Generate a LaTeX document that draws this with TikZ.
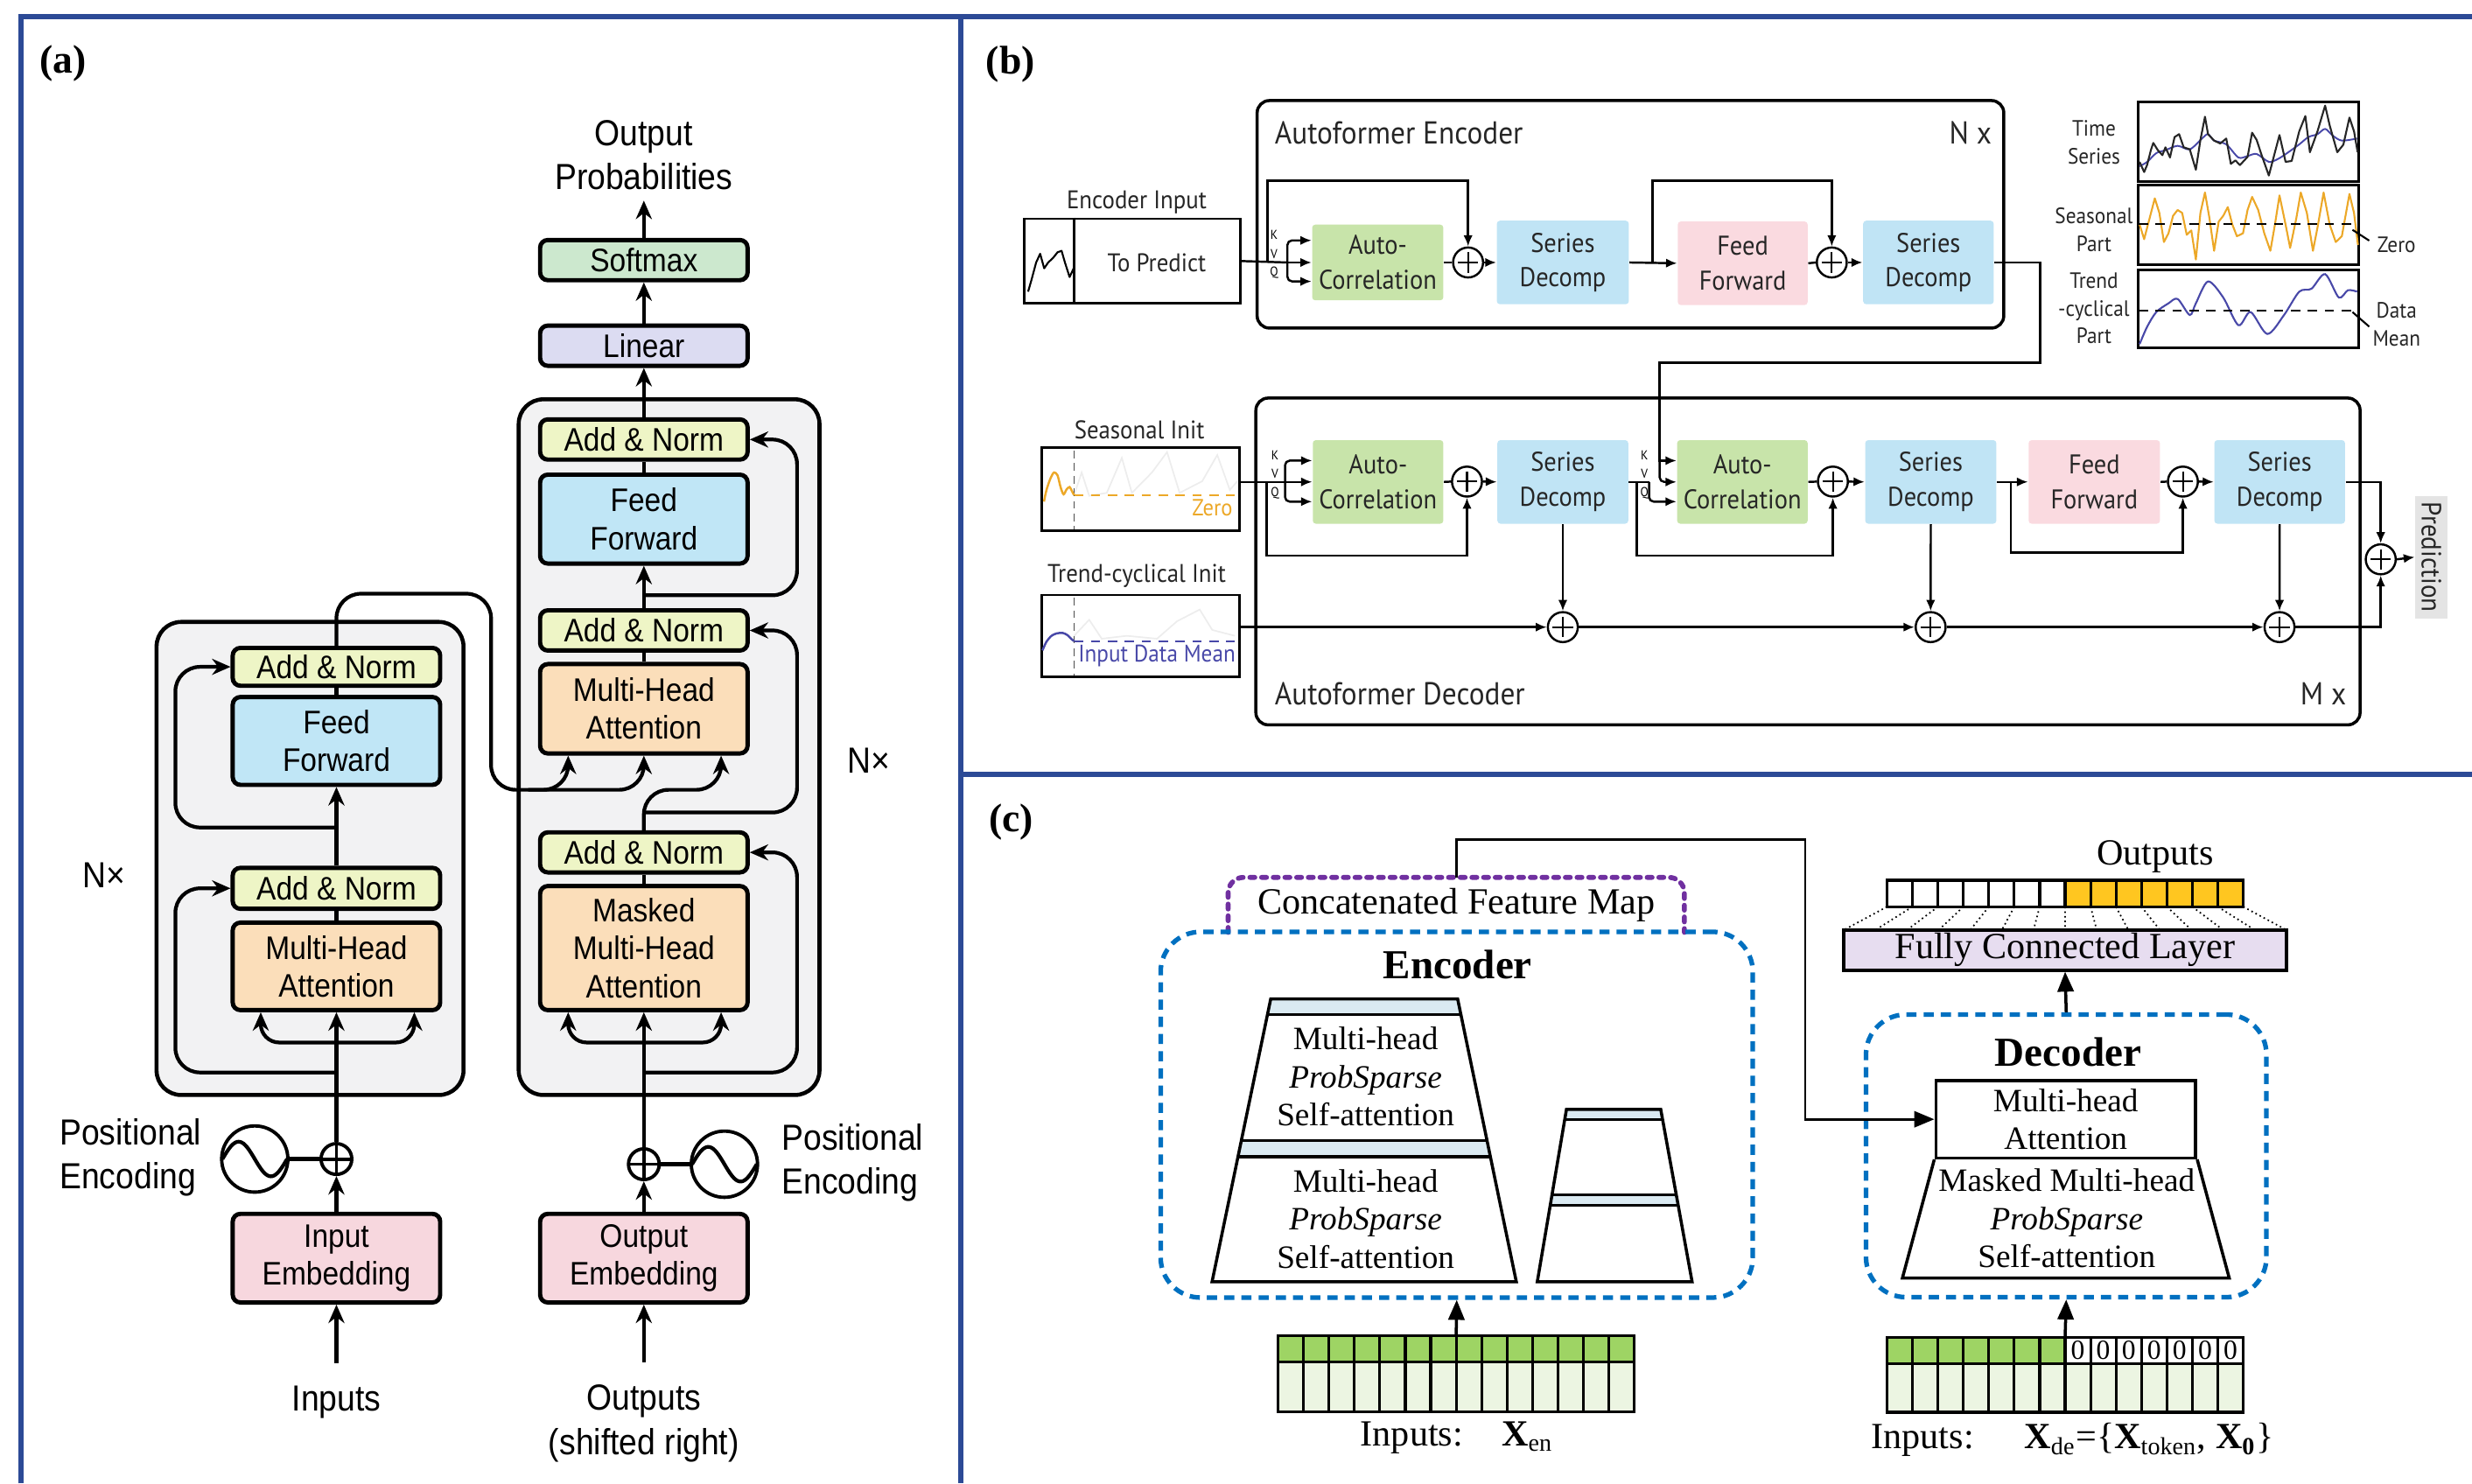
\documentclass[tikz,border=0pt]{standalone}
\usepackage{fontspec}
\setmainfont{Liberation Serif}
\newfontfamily\tfsans[FakeStretch=0.9]{Liberation Sans}
\newfontfamily\afsans[FakeStretch=0.92]{PT Sans}
\usetikzlibrary{arrows.meta,calc,positioning}

\newcommand{\pxu}{0.018017cm}

\definecolor{framec}{RGB}{44,74,150}
\definecolor{layergray}{RGB}{242,242,243}
\definecolor{normyel}{RGB}{238,245,198}
\definecolor{ffblue}{RGB}{192,230,246}
\definecolor{mhaorange}{RGB}{251,222,186}
\definecolor{embpink}{RGB}{247,215,222}
\definecolor{linlav}{RGB}{220,220,242}
\definecolor{softgreen}{RGB}{204,232,206}
\definecolor{acgreen}{RGB}{200,228,170}
\definecolor{sdblue}{RGB}{192,228,245}
\definecolor{ffpink}{RGB}{250,218,224}
\definecolor{tsorange}{RGB}{236,168,40}
\definecolor{tsblue}{RGB}{72,72,168}
\definecolor{predgray}{RGB}{228,228,228}
\definecolor{dashblue}{RGB}{0,112,192}
\definecolor{mappurple}{RGB}{112,48,160}
\definecolor{bandblue}{RGB}{218,234,242}
\definecolor{tokgreen}{RGB}{158,212,100}
\definecolor{cellgreen}{RGB}{236,245,226}
\definecolor{outyellow}{RGB}{255,198,32}
\definecolor{fclav}{RGB}{231,221,240}

\tikzset{
  panelframe/.style={draw=framec, line width=1.7pt},
  panellbl/.style={font=\bfseries\fontsize{13}{15}\selectfont},
  % transformer
  tbox/.style={draw, line width=1.4pt, rounded corners=2.5pt, minimum width=131.6*\pxu, inner sep=0pt, align=center, font=\tfsans\fontsize{10.6}{12.3}\selectfont},
  tlabel/.style={align=center, font=\tfsans\fontsize{11.8}{14.3}\selectfont},
  tline/.style={line width=1.2pt},
  tarrow/.style={line width=1.2pt, -{Stealth[length=6pt,width=5.2pt]}},
  layerbox/.style={draw, line width=1.3pt, fill=layergray, rounded corners=8pt},
  tplus/.style={circle, draw, line width=1.1pt, minimum size=19.5*\pxu, inner sep=0pt,
    path picture={\draw[line width=1.1pt] (path picture bounding box.north) -- (path picture bounding box.south) (path picture bounding box.west) -- (path picture bounding box.east);}},
  posenc/.style={circle, draw, line width=1.1pt, minimum size=42*\pxu, inner sep=0pt},
  % autoformer
  abox/.style={rounded corners=1pt, minimum height=53*\pxu, inner sep=0pt, align=center, text=black!85, font=\afsans\fontsize{8.8}{11.3}\selectfont},
  aplus/.style={circle, draw, line width=0.7pt, minimum size=19*\pxu, inner sep=0pt,
    path picture={\draw[line width=0.6pt] ($(path picture bounding box.center)+(0,-6.5)$) -- ($(path picture bounding box.center)+(0,6.5)$) ($(path picture bounding box.center)+(-6.5,0)$) -- ($(path picture bounding box.center)+(6.5,0)$);}},
  aline/.style={line width=0.7pt},
  aarrow/.style={line width=0.7pt, -{Latex[length=3.6pt,width=3pt]}},
  ablock/.style={draw, line width=1pt, rounded corners=4pt},
  atitle/.style={font=\afsans\fontsize{10.3}{12}\selectfont, text=black!85},
  asmall/.style={font=\afsans\fontsize{8.3}{10}\selectfont, text=black!85},
  tsl/.style={font=\afsans\fontsize{7.2}{9}\selectfont, align=center, text=black!85},
  kvq/.style={font=\afsans\fontsize{4.2}{5}\selectfont, inner sep=0pt},
  tsdash/.style={line width=0.6pt, dash pattern=on 3pt off 2.5pt},
  % informer
  cline/.style={line width=1pt},
  carrow/.style={line width=1pt, -{Triangle[length=6.5pt,width=5.2pt]}},
  ctext/.style={align=center, font=\fontsize{10.6}{12.4}\selectfont},
  clabel/.style={font=\fontsize{12}{14}\selectfont},
  dashbox/.style={draw=dashblue, line width=1.5pt, dash pattern=on 3.3pt off 2.3pt, rounded corners=13pt},
  mapline/.style={draw=mappurple, line width=1.6pt, dash pattern=on 1.6pt off 2.2pt, line cap=round, rounded corners=5pt},
  cellline/.style={line width=0.9pt},
  fanline/.style={line width=0.5pt, densely dotted}
}

\begin{document}
\begin{tikzpicture}[x=0.018017cm, y=-0.018017cm]
\useasboundingbox (0,0) rectangle (1568,941);

% frames
\draw[panelframe] (13.5,941) -- (13.5,10.4) -- (1568,10.4);
\draw[panelframe] (609.5,10.4) -- (609.5,941);
\draw[panelframe] (609.5,491.2) -- (1568,491.2);

\node (lbla) at (40,40) [panellbl] {(a)};
\node (lblb) at (641,40.7) [panellbl] {(b)};
\node (lblc) at (641.5,521.7) [panellbl] {(c)};

% ---------------- (a) transformer
\draw[layerbox] (99.3,394.5) rectangle (294,694.6);
\draw[layerbox] (329,253.3) rectangle (519.8,694.6);

\node (encAN2) at (213.4,423) [tbox, fill=normyel, minimum height=24*\pxu] {Add \& Norm};
\node (encFF) at (213.4,470) [tbox, fill=ffblue, minimum height=55.7*\pxu] {Feed\\Forward};
\node (encAN1) at (213.4,563.5) [tbox, fill=normyel, minimum height=26*\pxu] {Add \& Norm};
\node (encMHA) at (213.4,613) [tbox, fill=mhaorange, minimum height=55.5*\pxu] {Multi-Head\\Attention};
\node (encEmb) at (213.4,798.1) [tbox, fill=embpink, minimum height=56.2*\pxu] {Input\\Embedding};
\node (encPlus) at (213.4,735.2) [tplus] {};
\node (encPE) at (161.6,735.2) [posenc] {};
\node (encPEt) at (31,734.2) [tlabel, align=left, anchor=west] {Positional\\Encoding};
\node (encN) at (66.2,555) [tlabel] {N×};
\node (inputs) at (213.4,889.7) [tlabel] {Inputs};

\node (outprob) at (408.4,98.3) [tlabel] {Output\\Probabilities};
\node (softmax) at (408.4,165) [tbox, fill=softgreen, minimum height=25.5*\pxu] {Softmax};
\node (linear) at (408.4,219.3) [tbox, fill=linlav, minimum height=25.5*\pxu] {Linear};
\node (decAN3) at (408.4,278.8) [tbox, fill=normyel, minimum height=25.5*\pxu] {Add \& Norm};
\node (decFF) at (408.4,329.3) [tbox, fill=ffblue, minimum height=56.4*\pxu] {Feed\\Forward};
\node (decAN2) at (408.4,399.9) [tbox, fill=normyel, minimum height=25.5*\pxu] {Add \& Norm};
\node (decMHA) at (408.4,449.6) [tbox, fill=mhaorange, minimum height=56.7*\pxu] {Multi-Head\\Attention};
\node (decAN1) at (408.4,540.7) [tbox, fill=normyel, minimum height=25.4*\pxu] {Add \& Norm};
\node (decMMHA) at (408.4,601.4) [tbox, fill=mhaorange, minimum height=78.7*\pxu] {Masked\\Multi-Head\\Attention};
\node (decEmb) at (408.4,798.1) [tbox, fill=embpink, minimum height=56.2*\pxu] {Output\\Embedding};
\node (decPlus) at (408.4,738.5) [tplus] {};
\node (decPE) at (459.5,738.5) [posenc] {};
\node (decPEt) at (489,737.5) [tlabel, align=left, anchor=west] {Positional\\Encoding};
\node (decN) at (551,482.7) [tlabel] {N×};
\node (outputs) at (408.4,903) [tlabel] {Outputs\\(shifted right)};

% sine waves of the positional encodings
\draw[tline, shift={(encPE.center)}] plot[domain=-1:1, samples=41, smooth] (\x*20.5, {11*sin(180*\x)});
\draw[tline, shift={(decPE.center)}] plot[domain=-1:1, samples=41, smooth] (\x*20.5, {11*sin(180*\x)});

% encoder stack
\draw[tarrow, shorten <=4pt] (inputs.north) -- (encEmb.south);
\draw[tarrow] (encEmb.north) -- (encPlus.south);
\draw[tline] (encPE) -- (encPlus);
\draw[tarrow] (encPlus.north) -- (encMHA.south);
\draw[tarrow, rounded corners=6pt] (213.4,661.3) -| ($(encMHA.south)+(-48,0)$);
\draw[tarrow, rounded corners=6pt] (213.4,661.3) -| ($(encMHA.south)+(49.4,0)$);
\draw[tarrow, rounded corners=8pt] (213.4,680.3) -| ($(encAN1.west)+(-35,0)$) -- (encAN1.west);
\draw[tline] (encMHA.north) -- (encAN1.south);
\draw[tarrow] (encAN1.north) -- (encFF.south);
\draw[tarrow, rounded corners=8pt] (213.4,524.9) -| ($(encAN2.west)+(-35,0)$) -- (encAN2.west);
\draw[tline] (encFF.north) -- (encAN2.south);

% encoder output into the decoder
\draw[tarrow, rounded corners=8pt] (encAN2.north) |- (311.5,376.6) -- (311.5,501) -| (decMHA.south);
\draw[tarrow, rounded corners=8pt] (335,501) -| ($(decMHA.south)+(-48,0)$);
\draw[tarrow, rounded corners=8pt] (decAN1.north) -- (408.4,501) -| ($(decMHA.south)+(49,0)$);

% decoder stack
\draw[tarrow, shorten <=4pt] (outputs.north) -- (decEmb.south);
\draw[tarrow] (decEmb.north) -- (decPlus.south);
\draw[tline] (decPE) -- (decPlus);
\draw[tarrow] (decPlus.north) -- (decMMHA.south);
\draw[tarrow, rounded corners=6pt] (408.4,661.3) -| ($(decMMHA.south)+(-48,0)$);
\draw[tarrow, rounded corners=6pt] (408.4,661.3) -| ($(decMMHA.south)+(49,0)$);
\draw[tarrow, rounded corners=8pt] (408.4,680.3) -| ($(decAN1.east)+(30,0)$) -- (decAN1.east);
\draw[tline] (decMMHA.north) -- (decAN1.south);
\draw[tarrow, rounded corners=8pt] (408.4,515.4) -| ($(decAN2.east)+(30,0)$) -- (decAN2.east);
\draw[tline] (decMHA.north) -- (decAN2.south);
\draw[tarrow] (decAN2.north) -- (decFF.south);
\draw[tarrow, rounded corners=8pt] (408.4,377.6) -| ($(decAN3.east)+(30,0)$) -- (decAN3.east);
\draw[tline] (decFF.north) -- (decAN3.south);
\draw[tarrow] (decAN3.north) -- (linear.south);
\draw[tarrow] (linear.north) -- (softmax.south);
\draw[tarrow] (softmax.north) -- (outprob.south);

% ---------------- (b) autoformer
\draw[ablock] (797.4,63.8) rectangle (1271,208.1);
\node (encTitle) at (801.7,84.2) [atitle, anchor=west] {Autoformer Encoder};
\node (encNx) at (1249.8,84.2) [atitle] {N x};

\node (encin) at (718.2,165.6) [draw, line width=0.8pt, minimum width=137.2*\pxu, minimum height=53.6*\pxu] {};
\draw[line width=0.8pt] ($(encin.north west)+(32.3,0)$) -- ($(encin.south west)+(32.3,0)$);
\node (encinLbl) at (721,128.6) [asmall] {Encoder Input};
\node (toPred) at (733.7,166.5) [asmall] {To Predict};
\begin{scope}[shift={(610.5,55.5)}, xscale=0.42475, yscale=0.18501]
  \draw[line width=0.6pt, line join=round] (98,700) -- (103,660) -- (110,600) -- (116,570) -- (122,620) -- (128,600) -- (135,585) -- (142,565) -- (148,560) -- (153,600) -- (160,650) -- (166,620);
\end{scope}

\node (acE) at (873.9,166.5) [abox, fill=acgreen, minimum width=83.2*\pxu, minimum height=48*\pxu] {Auto-\\Correlation};
\node (plusE1) at (931.2,166.5) [aplus] {};
\node (sdE1) at (991.3,166.5) [abox, fill=sdblue, minimum width=83.7*\pxu] {Series\\Decomp};
\node (ffE) at (1105.4,167) [abox, fill=ffpink, minimum width=82.4*\pxu] {Feed\\Forward};
\node (plusE2) at (1161.9,166.5) [aplus] {};
\node (sdE2) at (1223.2,166.5) [abox, fill=sdblue, minimum width=82.8*\pxu] {Series\\Decomp};

\node (kE) at (808.1,148.9) [kvq] {K};
\node (vE) at (808.1,161) [kvq] {V};
\node (qE) at (808.1,173) [kvq] {Q};

\coordinate (forkE) at (816.6,166.5);
\coordinate (resE1) at (804,166.5);
\coordinate (resE2) at (1048.1,166.5);
\draw[aline] (encin.east) -- (forkE);
\draw[aarrow] (forkE) -- (acE.west);
\draw[aarrow, rounded corners=1.5pt] (forkE) |- ($(acE.west)+(0,-14)$);
\draw[aarrow, rounded corners=1.5pt] (forkE) |- ($(acE.west)+(0,12)$);
\draw[aarrow] (resE1) |- ($(plusE1)+(0,-51.8)$) -- (plusE1.north);
\draw[aline] (acE.east) -- (plusE1.west);
\draw[aarrow] (plusE1.east) -- (sdE1.west);
\draw[aarrow] (sdE1.east) -- (ffE.west);
\draw[aarrow] (resE2) |- ($(plusE2)+(0,-51.8)$) -- (plusE2.north);
\draw[aline] (ffE.east) -- (plusE2.west);
\draw[aarrow] (plusE2.east) -- (sdE2.west);

% decomposition example
\begin{scope}[shift={(1265.5,55.5)}, xscale=0.19292, yscale=0.18501]
  \draw[line width=0.8pt] (470,50) rectangle (1195,322);
  \draw[line width=0.8pt] (470,335) rectangle (1195,607);
  \draw[line width=0.8pt] (470,625) rectangle (1195,893);
  \draw[tsblue, line width=0.55pt] plot[smooth] coordinates {(475,270) (500,255) (530,225) (560,215) (600,200) (640,212) (680,175) (700,160) (720,182) (760,195) (800,240) (830,235) (860,228) (900,255) (930,245) (960,225) (1000,195) (1030,170) (1060,160) (1085,142) (1110,165) (1140,182) (1190,175)};
  \draw[black!85, line width=0.6pt, line join=round] (475,255) -- (490,290) -- (500,265) -- (512,215) -- (520,190) -- (535,215) -- (550,232) -- (560,205) -- (575,240) -- (590,170) -- (605,160) -- (620,205) -- (640,212) -- (660,282) -- (675,180) -- (690,100) -- (700,160) -- (720,182) -- (740,192) -- (760,175) -- (775,262) -- (790,250) -- (805,266) -- (830,238) -- (845,155) -- (860,180) -- (875,228) -- (900,302) -- (918,230) -- (935,163) -- (955,255) -- (975,252) -- (1000,150) -- (1020,98) -- (1035,222) -- (1060,150) -- (1085,62) -- (1100,130) -- (1125,222) -- (1145,196) -- (1165,103) -- (1180,150) -- (1192,222);
  \draw[tsorange, line width=0.6pt, line join=round] (475,470) -- (490,520) -- (500,480) -- (515,420) -- (525,380) -- (540,430) -- (555,530) -- (570,500) -- (585,440) -- (600,420) -- (615,430) -- (630,505) -- (645,490) -- (660,590) -- (675,430) -- (690,360) -- (705,450) -- (720,560) -- (735,460) -- (750,440) -- (765,410) -- (780,470) -- (795,510) -- (815,500) -- (830,420) -- (845,375) -- (865,420) -- (885,500) -- (905,560) -- (920,470) -- (935,370) -- (955,470) -- (970,550) -- (990,450) -- (1005,360) -- (1025,430) -- (1045,560) -- (1060,480) -- (1080,360) -- (1100,470) -- (1120,530) -- (1140,510) -- (1165,365) -- (1180,430) -- (1193,540);
  \draw[tsdash] (472,468) -- (1175,468);
  \draw[tsblue, line width=0.6pt] plot[smooth] coordinates {(475,880) (500,820) (530,770) (570,740) (600,725) (640,780) (660,740) (700,665) (750,720) (800,815) (840,770) (895,845) (950,780) (1000,700) (1040,690) (1085,640) (1130,720) (1160,695) (1190,700)};
  \draw[tsdash] (472,765) -- (1175,765);
  \draw[line width=0.6pt] (1175,488) -- (1230,525);
  \draw[line width=0.6pt] (1175,770) -- (1230,820);
  \node (tsTime) at (325,188) [tsl] {Time\\Series};
  \node (tsSeas) at (325,488) [tsl] {Seasonal\\Part};
  \node (tsTrend) at (325,757) [tsl] {Trend\\-cyclical\\Part};
  \node (tsZero) at (1320,540) [tsl] {Zero};
  \node (tsMean) at (1320,812) [tsl] {Data\\Mean};
\end{scope}

% decoder
\draw[ablock] (796.6,252.5) rectangle (1497,459.8);
\node (decTitle) at (801.7,440.3) [atitle, anchor=west] {Autoformer Decoder};
\node (decMx) at (1473.6,440.3) [atitle] {M x};

\node (sinit) at (723.5,310.4) [draw, line width=0.8pt, minimum width=125.8*\pxu, minimum height=52.7*\pxu] {};
\node (tinit) at (723.5,403.3) [draw, line width=0.8pt, minimum width=125.8*\pxu, minimum height=51.8*\pxu] {};
\node (sinitLbl) at (722.7,272.9) [asmall] {Seasonal Init};
\node (tinitLbl) at (721,365.4) [asmall] {Trend-cyclical Init};
\begin{scope}[shift={(638.3,244.2)}, xscale=0.31862, yscale=0.18501]
  \draw[black!7, line width=0.5pt] (135,378) -- (150,300) -- (165,380) -- (200,370) -- (230,250) -- (250,370) -- (290,300) -- (320,230) -- (345,370) -- (390,330) -- (420,240) -- (445,360) -- (460,330);
  \draw[black!7, line width=0.5pt] (135,860) -- (165,805) -- (190,870) -- (240,860) -- (300,870) -- (340,810) -- (385,770) -- (410,840) -- (455,860);
  \draw[black!70, line width=0.5pt, dash pattern=on 2.5pt off 1.6pt] (135,225) -- (135,495);
  \draw[black!70, line width=0.5pt, dash pattern=on 2.5pt off 1.6pt] (135,730) -- (135,995);
  \draw[tsorange, line width=0.6pt, dash pattern=on 3pt off 2.5pt] (135,378) -- (455,378);
  \draw[tsblue, line width=0.6pt, dash pattern=on 3pt off 2.5pt] (135,878) -- (455,878);
  \draw[tsorange, line width=0.7pt] plot[smooth] coordinates {(75,400) (80,360) (88,320) (95,300) (102,310) (108,350) (114,375) (120,358) (126,350) (131,365) (135,378)};
  \draw[tsblue, line width=0.7pt] plot[smooth] coordinates {(72,910) (80,880) (90,860) (100,852) (112,850) (122,858) (130,872) (135,878)};
\end{scope}
\node (zeroS) at (769,322) [font=\afsans\fontsize{7.6}{9}\selectfont, text=tsorange] {Zero};
\node (meanT) at (733.8,416.3) [font=\afsans\fontsize{7.8}{9}\selectfont, text=tsblue] {Input Data Mean};

\node (acD1) at (874.1,305.7) [abox, fill=acgreen, minimum width=82.8*\pxu] {Auto-\\Correlation};
\node (plusD1) at (930.5,305.5) [aplus] {};
\node (sdD1) at (991.3,305.7) [abox, fill=sdblue, minimum width=83*\pxu] {Series\\Decomp};
\node (acD2) at (1105.2,305.7) [abox, fill=acgreen, minimum width=82.8*\pxu] {Auto-\\Correlation};
\node (plusD2) at (1162.6,305.5) [aplus] {};
\node (sdD2) at (1224.7,305.7) [abox, fill=sdblue, minimum width=83.2*\pxu] {Series\\Decomp};
\node (ffD) at (1328.4,305.7) [abox, fill=ffpink, minimum width=83.3*\pxu] {Feed\\Forward};
\node (plusD3) at (1384.6,305.5) [aplus] {};
\node (sdD3) at (1446,305.7) [abox, fill=sdblue, minimum width=82.9*\pxu] {Series\\Decomp};
\node (trD1) at (991.3,397.8) [aplus] {};
\node (trD2) at (1224.6,397.8) [aplus] {};
\node (trD3) at (1445.9,397.8) [aplus] {};
\node (plusOut) at (1510.1,354.8) [aplus] {};
\node (pred) at (1542.3,353.4) [rotate=-90, fill=predgray, minimum width=77.7*\pxu, minimum height=20.5*\pxu, inner sep=0pt, font=\afsans\fontsize{9}{10}\selectfont, text=black!85] {Prediction};

\node (kD1) at (808.7,288.6) [kvq] {K};
\node (vD1) at (808.7,300.6) [kvq] {V};
\node (qD1) at (808.7,312.7) [kvq] {Q};
\node (kD2) at (1043,288.6) [kvq] {K};
\node (vD2) at (1043,300.6) [kvq] {V};
\node (qD2) at (1043,312.7) [kvq] {Q};

\coordinate (forkD) at (815.1,305.7);
\coordinate (resD1) at (803.4,305.7);
\coordinate (resD2) at (1038.1,305.7);
\coordinate (bendD2) at (1046,305.7);
\coordinate (resD3) at (1275.6,305.7);
\coordinate (encOut) at (1294,230);
\coordinate (kvD2) at (1052.7,292.2);

\draw[aline] (sinit.east |- acD1) -- (forkD);
\draw[aarrow] (forkD) -- (acD1.west);
\draw[aarrow, rounded corners=1.5pt] (forkD) |- ($(acD1.west)+(0,-13.5)$);
\draw[aarrow, rounded corners=1.5pt] (forkD) |- ($(acD1.west)+(0,12.5)$);
\draw[aarrow] (resD1) |- ($(plusD1)+(0,47)$) -- (plusD1.south);
\draw[aline] (acD1.east) -- (plusD1.west);
\draw[aarrow] (plusD1.east) -- (sdD1.west);

\draw[aline] (sdD1.east) -- (bendD2);
\draw[aarrow, rounded corners=1.5pt] (bendD2) |- ($(acD2.west)+(0,12.5)$);
\draw[aarrow] (sdE2.east) -| (encOut) -| (kvD2) -- ($(acD2.west)+(0,-13.5)$);
\draw[aarrow, rounded corners=1.5pt] (kvD2) |- (acD2.west);
\draw[aarrow] (resD2) |- ($(plusD2)+(0,47)$) -- (plusD2.south);
\draw[aline] (acD2.east) -- (plusD2.west);
\draw[aarrow] (plusD2.east) -- (sdD2.west);
\draw[aarrow] (sdD2.east) -- (ffD.west);
\draw[aarrow] (resD3) |- ($(plusD3)+(0,45)$) -- (plusD3.south);
\draw[aline] (ffD.east) -- (plusD3.west);
\draw[aarrow] (plusD3.east) -- (sdD3.west);

\draw[aarrow] (sdD1.south) -- (trD1.north);
\draw[aarrow] (sdD2.south) -- (trD2.north);
\draw[aarrow] (sdD3.south) -- (trD3.north);
\draw[aarrow] (tinit.east |- trD1) -- (trD1.west);
\draw[aarrow] (trD1.east) -- (trD2.west);
\draw[aarrow] (trD2.east) -- (trD3.west);
\draw[aarrow] (trD3.east) -| (plusOut.south);
\draw[aarrow] (sdD3.east) -| (plusOut.north);
\draw[aarrow] (plusOut.east) -- (pred.south);

% ---------------- (c) informer
\node (cfm) at (923.7,574) [minimum width=288.6*\pxu, minimum height=34.1*\pxu, inner sep=0pt, clabel] {Concatenated Feature Map};
\draw[mapline] (cfm.south west) -- (cfm.north west) -- (cfm.north east) -- (cfm.south east);
\node (encC) at (924,707.1) [dashbox, minimum width=375.6*\pxu, minimum height=232*\pxu] {};
\node (encCt) at (924.6,611.9) [font=\bfseries\fontsize{13.4}{15}\selectfont] {Encoder};

% attention blocks of the encoder
\fill[bandblue] (806,633.7) -- (924.6,633.7) -- (926.65,643.6) -- (803.95,643.6) -- cycle;
\fill[bandblue] (787.4,723.5) -- (943.2,723.5) -- (945.4,733.8) -- (785.2,733.8) -- cycle;
\draw[cline] (806,633.7) -- (924.6,633.7) -- (961.8,813.1) -- (768.8,813.1) -- cycle;
\draw[cline] (803.95,643.6) -- (926.65,643.6);
\draw[cline] (787.4,723.5) -- (943.2,723.5);
\draw[cline] (785.2,733.8) -- (945.4,733.8);
\node (encT1) at (866.2,683) [ctext] {Multi-head\\\textit{ProbSparse}\\Self-attention};
\node (encT2) at (866.2,773.3) [ctext] {Multi-head\\\textit{ProbSparse}\\Self-attention};

\fill[bandblue] (993.6,703.7) -- (1053.4,703.7) -- (1054.5,710.1) -- (992.5,710.1) -- cycle;
\fill[bandblue] (984.4,758) -- (1062.6,758) -- (1063.7,764.6) -- (983.3,764.6) -- cycle;
\draw[cline] (993.6,703.7) -- (1053.4,703.7) -- (1073.3,813.1) -- (975.1,813.1) -- cycle;
\draw[cline] (992.5,710.1) -- (1054.5,710.1);
\draw[cline] (984.4,758) -- (1062.6,758);
\draw[cline] (983.3,764.6) -- (1063.7,764.6);

% encoder inputs
\node (xen) at (923.65,871.4) [minimum width=226.1*\pxu, minimum height=48*\pxu, inner sep=0pt] {};
\foreach \i in {0,...,13} {
  \draw[cellline, fill=tokgreen] (810.6+\i*16.15,847.4) rectangle ++(16.15,16.6);
  \draw[cellline, fill=cellgreen] (810.6+\i*16.15,864) rectangle ++(16.15,31.4);
}
\node (inEn) at (895.5,917) [clabel, anchor=base] {Inputs:};
\node (inEnX) at (968.8,917) [clabel, anchor=base] {\textbf{X}\textsubscript{en}};

% decoder
\node (decC) at (1310.6,733.2) [dashbox, minimum width=254*\pxu, minimum height=179.3*\pxu] {};
\node (decCt) at (1311.8,667.6) [font=\bfseries\fontsize{13.4}{15}\selectfont] {Decoder};
\node (mhaC) at (1310.3,710) [draw, line width=1pt, minimum width=164.8*\pxu, minimum height=49*\pxu, inner sep=0pt, ctext] {Multi-head\\Attention};
\draw[cline] (mhaC.south west) -- (1206.7,810.7) -- (1414,810.7) -- (mhaC.south east);
\node (decT) at (1310.9,772.9) [ctext] {Masked Multi-head\\\textit{ProbSparse}\\Self-attention};

\node (fcC) at (1309.9,602.7) [draw, line width=1pt, fill=fclav, minimum width=281*\pxu, minimum height=25.4*\pxu, inner sep=0pt, clabel] {Fully Connected Layer};
\node (outC) at (1367,543.2) [clabel] {Outputs};
\foreach \i in {0,...,6}
  \draw[cellline, fill=white] (1196.9+\i*16.143,558.4) rectangle ++(16.143,16.8);
\foreach \i in {7,...,13}
  \draw[cellline, fill=outyellow] (1196.9+\i*16.143,558.4) rectangle ++(16.143,16.8);
\foreach \i in {0,...,14}
  \draw[fanline] (1196.9+\i*16.143,575.2) -- (1169.4+\i*20.071,590);

\node (xde) at (1309.9,872) [minimum width=226*\pxu, minimum height=47.6*\pxu, inner sep=0pt] {};
\foreach \i in {0,...,13}
  \draw[cellline, fill=cellgreen] (1196.9+\i*16.143,864.8) rectangle ++(16.143,31);
\foreach \i in {0,...,6}
  \draw[cellline, fill=tokgreen] (1196.9+\i*16.143,848.2) rectangle ++(16.143,16.6);
\foreach \i in {7,...,13} {
  \draw[cellline, fill=white] (1196.9+\i*16.143,848.2) rectangle ++(16.143,16.6);
  \node (z\i) at (1196.9+\i*16.143+8.07,856.5) [inner sep=0pt, font=\fontsize{9}{10}\selectfont] {0};
}
\node (inDe) at (1219.5,919) [clabel, anchor=base] {Inputs:};
\node (inDeX) at (1277.2,919) [clabel, anchor=base west] {\textbf{X}\textsubscript{de}=\{\textbf{X}\textsubscript{token}, \textbf{X}\textsubscript{\textbf{0}}\}};

\coordinate (cfmTurn) at (1145,532.6);
\draw[carrow] (xen.north) -- (encC.south);
\draw[carrow] (xde.north) -- (decC.south);
\draw[carrow] (decC.north) -- (fcC.south);
\draw[carrow, line width=0.8pt] (cfm.north) |- (cfmTurn) |- (mhaC.west);

\end{tikzpicture}
\end{document}
